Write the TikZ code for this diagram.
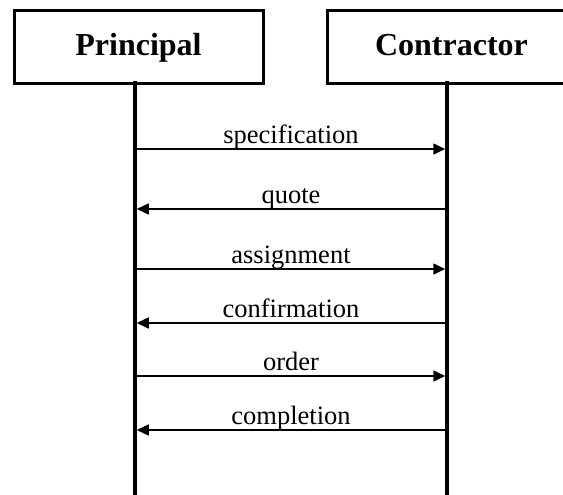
\documentclass[tikz,border=0pt]{standalone}
\usepackage{fontspec}
\setmainfont{Liberation Serif}
\usetikzlibrary{arrows.meta}
\begin{document}
\begin{tikzpicture}[x=1pt,y=-1pt,
  actor/.style={draw,line width=3pt,minimum width=249pt,minimum height=73pt,inner sep=0pt,
    font=\fontsize{32}{36}\selectfont\bfseries,text height=22pt,text depth=4pt},
  life/.style={line width=3.5pt},
  msg/.style={line width=1.5pt,-{Triangle[length=12pt,width=11pt]}},
  lbl/.style={font=\fontsize{26.5}{30}\selectfont,anchor=base,inner sep=0pt,yshift=5.7pt}]
\useasboundingbox (0,0) rectangle (563,495);
\node[actor] (P) at (138.5,47) {Principal};
\node[actor] (C) at (451.5,47) {Contractor};
\coordinate (Pt) at (135,81);
\coordinate (Ct) at (447,81);
\coordinate (Pb) at (135,497);
\coordinate (Cb) at (447,497);
\draw[life] (Pt) -- (Pb);
\draw[life] (Ct) -- (Cb);
\foreach \n/\y in {s1/149,s2/209,s3/269,s4/323,s5/376,s6/430}{
  \coordinate (\n P) at (136.75,\y);
  \coordinate (\n C) at (445.25,\y);
}
\draw[msg] (s1P) -- node[lbl] {specification} (s1C);
\draw[msg] (s2C) -- node[lbl] {quote} (s2P);
\draw[msg] (s3P) -- node[lbl] {assignment} (s3C);
\draw[msg] (s4C) -- node[lbl] {confirmation} (s4P);
\draw[msg] (s5P) -- node[lbl] {order} (s5C);
\draw[msg] (s6C) -- node[lbl] {completion} (s6P);
\end{tikzpicture}
\end{document}
